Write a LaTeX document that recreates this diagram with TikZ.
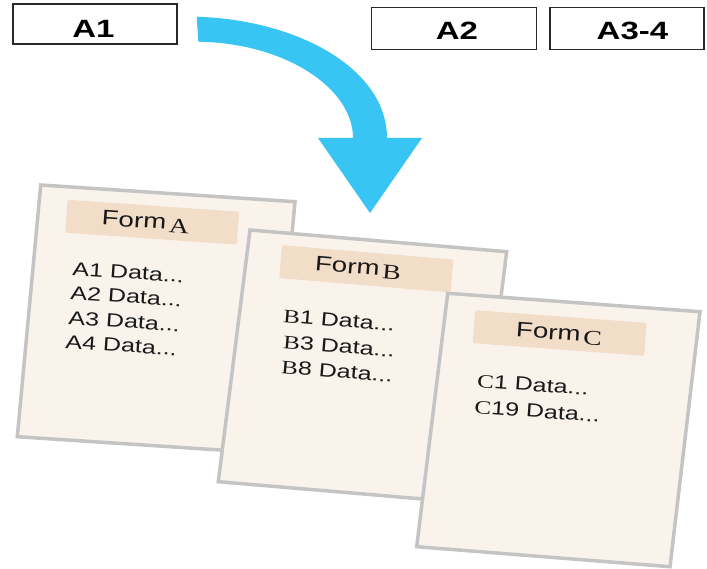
\documentclass[tikz,border=0pt]{standalone}
\usepackage{fontspec}
\setmainfont{Liberation Sans}
\newfontfamily\wsans[FakeStretch=1.32]{Liberation Sans}
\newfontfamily\wserif[FakeStretch=1.32]{Liberation Serif}
\definecolor{sheetfill}{RGB}{250,243,236}
\definecolor{sheetline}{RGB}{196,196,196}
\definecolor{headfill}{RGB}{242,221,201}
\definecolor{arrowblue}{RGB}{56,197,243}
\definecolor{boxline}{RGB}{40,40,40}
\begin{document}
\begin{tikzpicture}[x=1pt,y=-1pt,
  topbox/.style={draw=boxline, line width=1.3pt, inner sep=0pt},
  toplabel/.style={font=\wsans\bfseries\fontsize{25}{30}\selectfont, inner sep=0pt},
  sheet/.style={fill=sheetfill, draw=sheetline, line width=3.5pt, line join=miter},
  header/.style={fill=headfill, rounded corners=2pt, minimum width=172pt, minimum height=33pt, inner sep=0pt},
  title/.style={font=\wsans\fontsize{21}{25}\selectfont, inner sep=0pt, text=black!90},
  dataline/.style={font=\wsans\fontsize{19}{23}\selectfont, inner sep=0pt, anchor=base west, text=black!90}]
\useasboundingbox (0,0) rectangle (707,569);

% top boxes
\node[topbox, minimum width=164pt, minimum height=40pt] (boxA1) at (95,24) {};
\node[toplabel] (labA1) at (93.5,29) {A1};
\node[topbox, minimum width=165pt, minimum height=42pt] (boxA2) at (454.2,28.3) {};
\node[toplabel] (labA2) at (457,30.5) {A2};
\node[topbox, minimum width=154pt, minimum height=42pt] (boxA34) at (627,28.3) {};
\node[toplabel] (labA34) at (632.5,30.5) {A3-4};

% curved arrow
\fill[arrowblue] (196.7,16.7) .. controls (300,20) and (387,70) .. (387,138)
  -- (422,138) -- (370,213) -- (318,138) -- (353,138)
  .. controls (353,88) and (285,43) .. (198.3,41.7) -- cycle;

% Form A
\filldraw[sheet] (40.7,185) -- (295,201.7) -- (271.6,453.4) -- (17.3,436.7) -- cycle;
\node[header, rotate=-4] (hA) at (152.2,222.2) {};
\node[title, rotate=-4] (tA) at (145.5,222) {Form\kern3pt\raisebox{-2.5pt}{\wserif A}};
\node[dataline, rotate=-4] (a1) at (72,275) {A1 Data...};
\node[dataline, rotate=-4] (a2) at (70,299) {A2 Data...};
\node[dataline, rotate=-4] (a3) at (68,324) {A3 Data...};
\node[dataline, rotate=-4] (a4) at (65,348) {A4 Data...};

% Form B
\filldraw[sheet] (250,230) -- (506.7,251.7) -- (475,503.4) -- (218.3,481.7) -- cycle;
\node[header, rotate=-4.8] (hB) at (366.3,268.8) {};
\node[title, rotate=-4.8] (tB) at (358,268) {Form\kern3pt\raisebox{-2.5pt}{\wserif B}};
\node[dataline, rotate=-4.8] (b1) at (282.7,322) {{\wserif B}1 Data...};
\node[dataline, rotate=-4.8] (b3) at (282.7,348) {{\wserif B}3 Data...};
\node[dataline, rotate=-4.8] (b8) at (280.7,373) {{\wserif B}8 Data...};

% Form C
\filldraw[sheet] (447.7,293.3) -- (700,311.7) -- (670,566.7) -- (416.7,546.7) -- cycle;
\node[header, rotate=-4.2] (hC) at (559.7,333) {};
\node[title, rotate=-4.2] (tC) at (559,334) {Form\kern3pt\raisebox{-2.5pt}{\wserif C}};
\node[dataline, rotate=-4.2] (c1) at (476.7,387) {{\wserif C}1 Data...};
\node[dataline, rotate=-4.2] (c19) at (474,413) {{\wserif C}19 Data...};
\end{tikzpicture}
\end{document}
